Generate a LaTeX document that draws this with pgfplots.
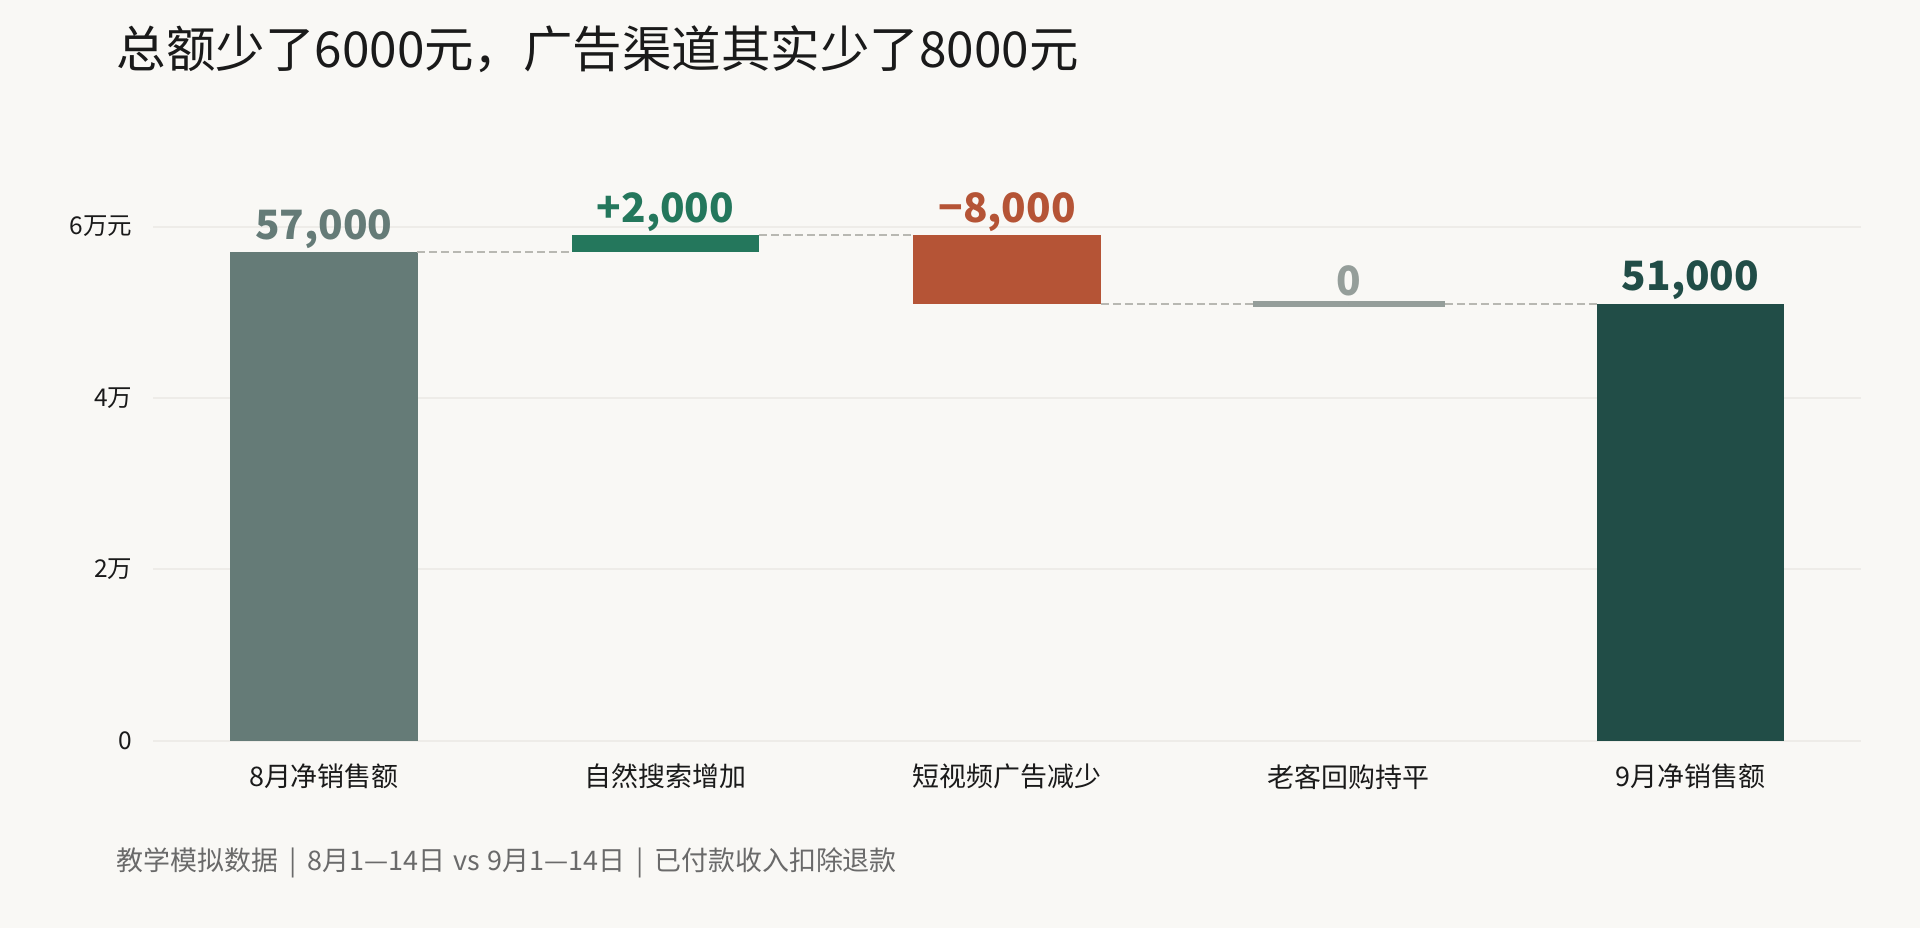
\documentclass[border=0pt]{standalone}
\usepackage{pgfplots}
\pgfplotsset{compat=1.18}
\usepackage{fontspec}
\setmainfont{Noto Sans CJK SC}

\definecolor{bg}{HTML}{F9F8F5}
\definecolor{startc}{HTML}{657B77}
\definecolor{upc}{HTML}{24775C}
\definecolor{downc}{HTML}{B55436}
\definecolor{flatc}{HTML}{959E9A}
\definecolor{endc}{HTML}{214D47}
\definecolor{gridc}{HTML}{EEECE8}
\definecolor{dashc}{HTML}{B8B8B2}
\definecolor{txt}{HTML}{1A1A1A}
\definecolor{note}{HTML}{6A6A6A}

\begin{document}
\begin{tikzpicture}[x=1pt,y=1pt]
\useasboundingbox (0,0) rectangle (784,379);
\fill[bg] (0,0) rectangle (784,379);

\pgfplotsset{wf/.style={
  scale only axis, width=697.5pt, height=210pt,
  at={(62.5pt,76.5pt)}, anchor=south west,
  xmin=-0.5, xmax=4.5, ymin=0, ymax=60000, clip=false},
  conn/.style={dashc, line width=0.8pt, dash pattern=on 3.2pt off 1.7pt}}

% bars: invisible base + one series per colour
\begin{axis}[wf, ybar stacked, bar width=76.5pt,
  ymajorgrids, grid style={gridc, line width=0.8pt},
  axis line style={draw=none}, major tick length=0,
  scaled y ticks=false,
  ytick={0,20000,40000,60000}, yticklabels={0,2万,4万,6万元},
  yticklabel style={anchor=east, xshift=-5pt, text=txt, font=\fontsize{10}{12}\selectfont},
  xtick={0,1,2,3,4},
  xticklabels={8月净销售额,自然搜索增加,短视频广告减少,老客回购持平,9月净销售额},
  xticklabel style={anchor=north, yshift=-6pt, text=txt, font=\fontsize{11}{13}\selectfont}]
  \addplot[draw=none, fill=none] coordinates {(0,0) (1,57000) (2,51000) (3,51000) (4,0)};
  \addplot[draw=none, fill=startc] coordinates {(0,57000) (1,0) (2,0) (3,0) (4,0)};
  \addplot[draw=none, fill=upc] coordinates {(0,0) (1,2000) (2,0) (3,0) (4,0)};
  \addplot[draw=none, fill=downc] coordinates {(0,0) (1,0) (2,8000) (3,0) (4,0)};
  \addplot[draw=none, fill=endc] coordinates {(0,0) (1,0) (2,0) (3,0) (4,51000)};
\end{axis}

% connectors, flat step and value labels
\begin{axis}[wf, hide axis]
  \addplot[conn] coordinates {(0.274,57000) (0.726,57000)};
  \addplot[conn] coordinates {(1.274,59000) (1.726,59000)};
  \addplot[conn] coordinates {(2.274,51000) (2.719,51000)};
  \addplot[conn] coordinates {(3.281,51000) (3.726,51000)};
  \addplot[flatc, line width=2.5pt] coordinates {(2.719,51000) (3.281,51000)};
  \addplot[only marks, mark=*, mark size=0pt, mark options={draw=none, fill=none},
    nodes near coords, point meta=explicit symbolic,
    nodes near coords style={anchor=center, yshift=9.5pt, font=\fontsize{16.5}{18}\selectfont\bfseries}]
    coordinates {
      (0,57000) [\textcolor{startc}{57,000}]
      (1,59000) [\textcolor{upc}{+2,000}]
      (2,59000) [\textcolor{downc}{−8,000}]
      (3,51000) [\textcolor{flatc}{0}]
      (4,51000) [\textcolor{endc}{51,000}]
    };
\end{axis}

\node[anchor=west, text=txt, inner sep=0pt, font=\fontsize{20.2}{24}\selectfont] at (47.5,359) {总额少了6000元，广告渠道其实少了8000元};
\node[anchor=west, text=note, inner sep=0pt, font=\fontsize{11}{13}\selectfont] at (47.5,26.5)
  {教学模拟数据\hspace{0.4em}|\hspace{0.4em}8月1—14日\hspace{0.3em}vs\hspace{0.3em}9月1—14日\hspace{0.4em}|\hspace{0.4em}已付款收入扣除退款};
\end{tikzpicture}
\end{document}
